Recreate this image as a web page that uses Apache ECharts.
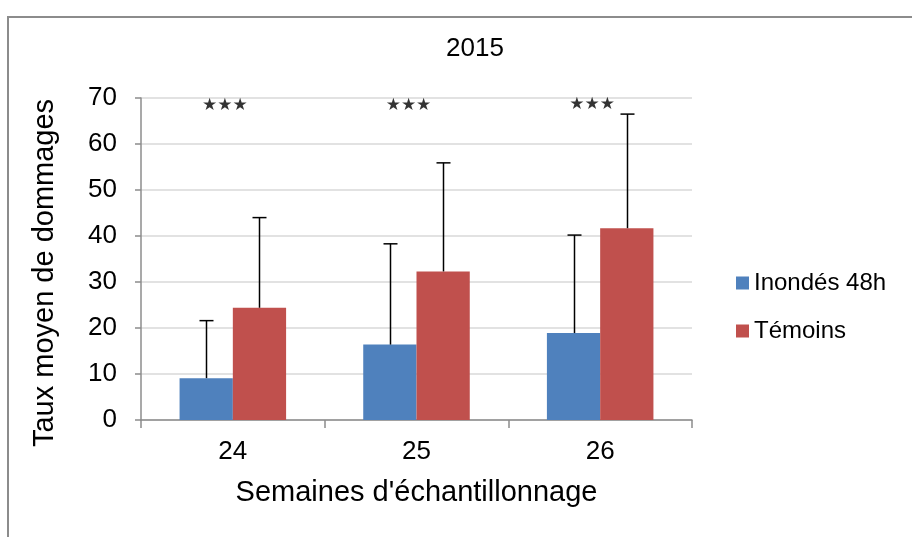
<!DOCTYPE html>
<html>
<head>
<meta charset="utf-8">
<script src="https://cdn.jsdelivr.net/npm/echarts@6/dist/echarts.min.js"></script>
<style>
  html, body { margin: 0; padding: 0; background: #fff; }
  #chart { width: 912px; height: 537px; }
</style>
</head>
<body>
<div id="chart"></div>
<script>
// data
const weeks = ['24', '25', '26'];
const inondes = [9.1, 16.4, 18.9];
const temoins = [24.4, 32.3, 41.7];
// top of each error bar
const inondesTop = [21.6, 38.3, 40.2];
const temoinsTop = [44.0, 55.9, 66.5];
const stars = ['★★★', '★★★', '★★★'];
const starLevel = [68.5, 68.5, 68.8];
const yTicks = [0, 10, 20, 30, 40, 50, 60, 70];

const font = '"Liberation Sans", Arial, sans-serif';
const barGapRatio = 0.42;

const errorSeries = (name, tops, side) => {
  return {
    name: name + '_err',
    type: 'custom',
    z: 5,
    silent: true,
    data: tops.map((t, i) => [i, t]),
    renderItem: (params, api) => {
      const idx = api.value(0);
      const band = api.size([1, 0])[0];
      const bw = band * (1 - barGapRatio) / 2;
      const base = api.coord([idx, side < 0 ? inondes[idx] : temoins[idx]]);
      const top = api.coord([idx, api.value(1)]);
      const x = Math.round(base[0] + side * bw / 2) + 0.5;
      const cap = 7;
      const style = { stroke: '#000', lineWidth: 1.5 };
      return {
        type: 'group',
        children: [
          { type: 'line', shape: { x1: x, y1: base[1], x2: x, y2: top[1] }, style: style },
          { type: 'line', shape: { x1: x - cap, y1: top[1], x2: x + cap, y2: top[1] }, style: style }
        ]
      };
    }
  };
};

const chart = echarts.init(document.getElementById('chart'));

chart.setOption({
  animation: false,
  backgroundColor: '#fff',
  textStyle: { fontFamily: font },
  title: {
    text: '2015',
    left: 470,
    top: 31,
    textAlign: 'center',
    textStyle: { fontFamily: font, fontSize: 26, fontWeight: 'normal', color: '#000' }
  },
  graphic: [{
    type: 'rect',
    shape: { x: 8, y: 17, width: 940, height: 560 },
    style: { fill: 'none', stroke: '#8c8c8c', lineWidth: 2 },
    silent: true
  }],
  legend: {
    orient: 'vertical',
    left: 731,
    top: 266,
    itemWidth: 13,
    itemHeight: 13,
    itemGap: 24,
    icon: 'rect',
    data: ['Inondés 48h', 'Témoins'],
    textStyle: { fontFamily: font, fontSize: 24, color: '#000' }
  },
  grid: { left: 141, right: 220, top: 98, bottom: 117 },
  xAxis: {
    type: 'category',
    data: weeks,
    name: "Semaines d'échantillonnage",
    nameLocation: 'middle',
    nameGap: 58,
    nameTextStyle: { fontFamily: font, fontSize: 29, color: '#000' },
    axisLine: { lineStyle: { color: '#8c8c8c', width: 1.5 } },
    axisTick: { show: true, length: 8, lineStyle: { color: '#8c8c8c', width: 1.5 } },
    axisLabel: { margin: 19, fontFamily: font, fontSize: 26, color: '#000' }
  },
  yAxis: {
    type: 'value',
    min: 0,
    max: 70,
    interval: 10,
    name: 'Taux moyen de dommages',
    nameLocation: 'middle',
    nameGap: 82,
    nameRotate: 90,
    nameTextStyle: { fontFamily: font, fontSize: 29, color: '#000', padding: [0, 28, 0, 0] },
    axisLine: { show: true, lineStyle: { color: '#8c8c8c', width: 1.5 } },
    axisTick: { show: true, length: 6, lineStyle: { color: '#8c8c8c', width: 1.5 } },
    axisLabel: {
      margin: 24, fontFamily: font, fontSize: 26, color: '#000',
      formatter: v => (yTicks.indexOf(v) >= 0 ? String(v) : '')
    },
    splitLine: { lineStyle: { color: '#d9d9d9', width: 1.5 } }
  },
  series: [
    {
      name: 'Inondés 48h',
      type: 'bar',
      data: inondes,
      barGap: '0%',
      barCategoryGap: (barGapRatio * 100) + '%',
      itemStyle: { color: '#4f81bd' }
    },
    {
      name: 'Témoins',
      type: 'bar',
      data: temoins,
      itemStyle: { color: '#c0504d' }
    },
    errorSeries('Inondés 48h', inondesTop, -1),
    errorSeries('Témoins', temoinsTop, 1),
    {
      name: 'stars',
      type: 'scatter',
      symbolSize: 0,
      silent: true,
      data: weeks.map((w, i) => [i, starLevel[i]]),
      label: {
        show: true,
        position: 'inside',
        formatter: p => stars[p.dataIndex],
        fontFamily: '"DejaVu Sans", sans-serif',
        fontSize: 17,
        color: '#000',
        offset: [-8, 1]
      }
    }
  ]
});
</script>
</body>
</html>
